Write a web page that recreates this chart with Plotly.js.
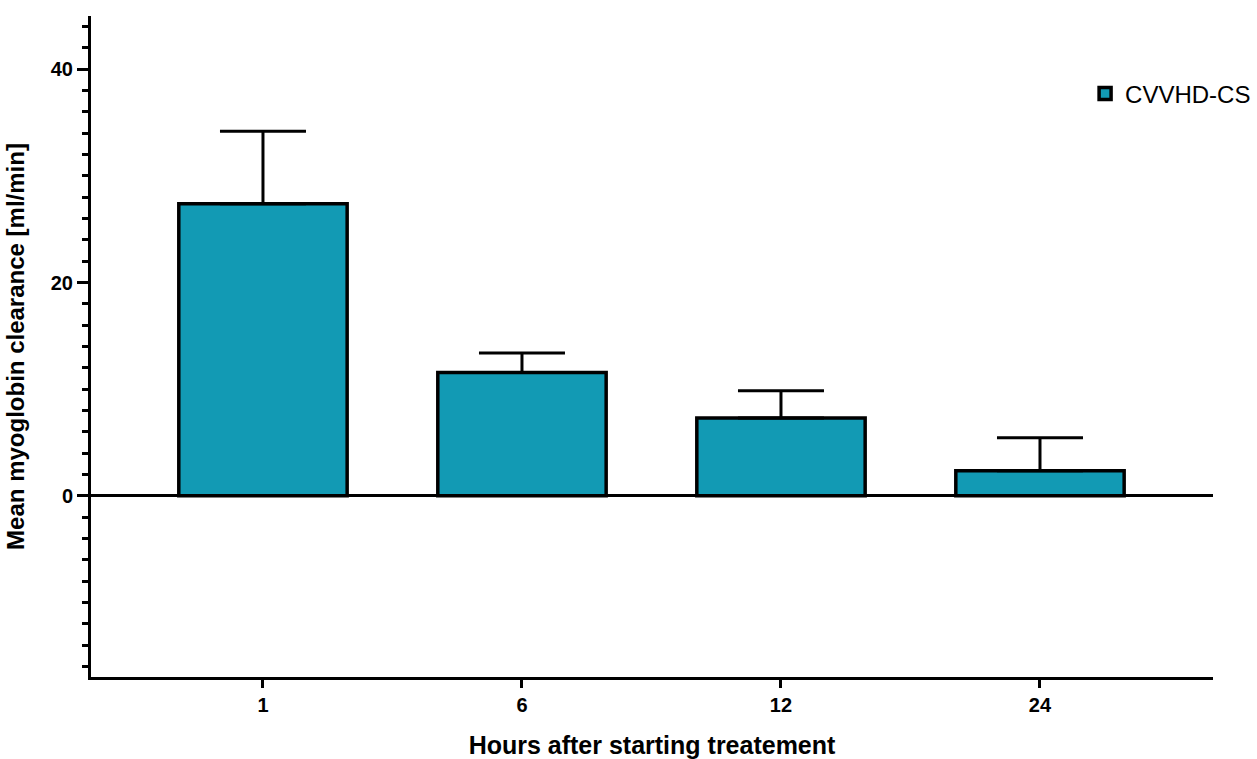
<!DOCTYPE html>
<html>
<head>
<meta charset="utf-8">
<script src="https://cdn.plot.ly/plotly-3.0.1.min.js"></script>
<style>html,body{margin:0;padding:0;background:#fff;}#chart{width:1257px;height:759px;}</style>
</head>
<body>
<div id="chart"></div>
<script>
const categories = ["1", "6", "12", "24"];
const meanClearance = [27.4, 11.55, 7.3, 2.35];
const errorUpper = [34.2, 13.4, 9.85, 5.45];
const seriesName = "CVVHD-CS";

const errPlus = errorUpper.map((u, i) => u - meanClearance[i]);

const trace = {
  type: "bar",
  x: categories,
  y: meanClearance,
  name: seriesName,
  width: 0.65,
  marker: {color: "#129AB4", line: {color: "#000", width: 3.5}},
  error_y: {type: "data", symmetric: false, array: errPlus, arrayminus: meanClearance.map(() => 0),
            color: "#000", thickness: 3, width: 43}
};

const bold = {family: "Liberation Sans, Arial, sans-serif", color: "#000", weight: "bold"};

const layout = {
  width: 1257, height: 759,
  margin: {l: 91, r: 44, t: 16, b: 82, autoexpand: false},
  paper_bgcolor: "#fff", plot_bgcolor: "#fff",
  showlegend: true,
  legend: {x: 0.886, xanchor: "left", y: 0.882, yanchor: "middle", font: {family: "Liberation Sans, Arial, sans-serif", size: 24, color: "#000"}, bgcolor: "rgba(0,0,0,0)"},
  xaxis: {
    type: "category", range: [-0.664, 3.668], automargin: false,
    showline: true, linecolor: "#000", linewidth: 3,
    ticks: "outside", ticklen: 8, tickwidth: 3, tickcolor: "#000",
    tickfont: Object.assign({size: 20}, bold),
    showgrid: false, zeroline: false,
    title: {text: "Hours after starting treatement", font: Object.assign({size: 25}, bold), standoff: 22}
  },
  yaxis: {
    range: [-17, 45], dtick: 20, tick0: 0, automargin: false,
    showline: true, linecolor: "#000", linewidth: 3,
    ticks: "outside", ticklen: 11, tickwidth: 3, tickcolor: "#000",
    minor: {dtick: 2, ticks: "outside", ticklen: 6, tickwidth: 3, tickcolor: "#000", showgrid: false},
    tickfont: Object.assign({size: 20}, bold),
    showgrid: false,
    zeroline: true, zerolinecolor: "#000", zerolinewidth: 3,
    title: {text: "Mean myoglobin clearance [ml/min]", font: Object.assign({size: 24}, bold), standoff: 20}
  }
};

Plotly.newPlot("chart", [trace], layout, {displayModeBar: false, staticPlot: true});
</script>
</body>
</html>
